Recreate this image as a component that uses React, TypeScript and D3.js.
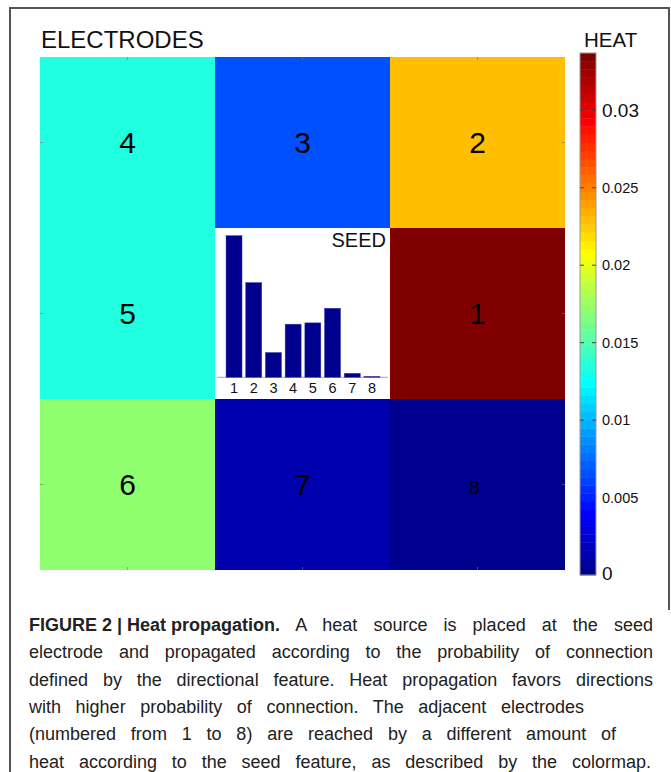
import * as d3 from "d3";
import React, { useEffect, useRef } from "react";

// electrodes 1..8 around the seed
const electrodes = ["1", "2", "3", "4", "5", "6", "7", "8"];
const heatValues = [0.0337, 0.0229, 0.0066, 0.0134, 0.0134, 0.0171, 0.0013, 0.0002];
const seedValues = [0.32, 0.214, 0.056, 0.12, 0.123, 0.156, 0.009, 0.002];
// rows of the 3x3 grid, "S" = seed cell
const gridRows = [["4", "3", "2"], ["5", "S", "1"], ["6", "7", "8"]];
const heatMax = 0.0337;
const heatTicks = [0, 0.005, 0.01, 0.015, 0.02, 0.025, 0.03];
const heatTickLabels = ["0", "0.005", "0.01", "0.015", "0.02", "0.025", "0.03"];
const captionBold = "FIGURE 2 | Heat  propagation.";
const captionLines = [
    " A heat source is placed at the seed",
    "electrode and propagated according to the probability of connection",
    "defined by the directional feature. Heat propagation favors directions",
    "with higher probability of connection. The adjacent electrodes",
    "(numbered from 1 to 8) are reached by a different amount of",
    "heat according to the seed feature, as described by the colormap.",
];
const captionEnds = [653, 653, 653, 584, 616, 651];

const jet = (i: number) => {
    const c = (v: number) => Math.round(255 * Math.max(0, Math.min(1, v)));
    const r = Math.min(0.0625 * (i - 23), 1 - 0.0625 * (i - 55));
    const g = Math.min(0.0625 * (i - 7), 1 - 0.0625 * (i - 39));
    const b = Math.min(0.5625 + 0.0625 * i, 1 - 0.0625 * (i - 23));
    return d3.rgb(c(r), c(g), c(b)).formatHex();
};
const heatIndex = (v: number) => Math.min(63, Math.floor((v / heatMax) * 64));

const FONT = "'Liberation Sans', Arial, Helvetica, sans-serif";
const CAPTION_FONT = "'Liberation Sans Narrow', 'Arial Narrow', 'Liberation Sans', sans-serif";

export default function App() {
    const capRef = useRef<SVGGElement>(null);

    const gx = d3.scaleBand().domain(["0", "1", "2"]).range([40, 565]);
    const gy = d3.scaleBand().domain(["0", "1", "2"]).range([57, 570]);
    const cy = d3.scaleLinear().domain([0, heatMax]).range([575, 53]);
    const sx = d3.scaleBand().domain(electrodes).range([222.5, 383.5]).paddingInner(0.19).paddingOuter(0.18);
    const sy = d3.scaleLinear().domain([0, 0.32]).range([377.3, 235.7]);
    const capX = 29;

    useEffect(() => {
        if (!capRef.current) return;
        d3.select(capRef.current).selectAll<SVGTextElement, unknown>("text").each(function (_, i) {
            // only the plain part of each line gets stretched
            const plain = d3.select(this).select<SVGTSpanElement>("tspan.plain");
            plain.attr("word-spacing", 0);
            const w = this.getComputedTextLength();
            const txt = plain.text();
            const spaces = (txt.match(/ /g) || []).length;
            const extra = (captionEnds[i] - capX - w) / Math.max(1, spaces);
            plain.attr("word-spacing", Math.max(0, extra));
        });
    }, []);

    const cells: { key: string; col: number; row: number }[] = [];
    gridRows.forEach((r, ri) => r.forEach((k, ci) => cells.push({ key: k, col: ci, row: ri })));

    return (
        <svg width={671} height={772} style={{ position: "absolute", left: 0, top: 0, background: "#fff" }} fontFamily={FONT}>
            {/* frame */}
            <path d="M10,772 V8 H669 V610" fill="none" stroke="#555" strokeWidth={2} />

            <text x={41} y={48} fontSize={24} fill="#111">ELECTRODES</text>
            <text x={584} y={47} fontSize={20.5} fill="#111">HEAT</text>

            {/* electrode grid */}
            {cells.map(c => {
                const x0 = gx(String(c.col))!; const y0 = gy(String(c.row))!;
                const w = gx.bandwidth(); const h = gy.bandwidth();
                const fill = c.key === "S" ? "#fff" : jet(heatIndex(heatValues[+c.key - 1]));
                return <rect key={c.key} x={x0} y={y0} width={w} height={h} fill={fill} />;
            })}
            {cells.filter(c => c.key !== "S").map(c => {
                const cx = gx(String(c.col))! + gx.bandwidth() / 2;
                const cyy = gy(String(c.row))! + gy.bandwidth() / 2;
                const small = c.key === "8";
                return (
                    <text key={"l" + c.key} x={small ? cx - 3 : cx} y={small ? cyy + 3 : cyy} textAnchor="middle"
                        dominantBaseline="central" fontSize={small ? 19 : 30} fill="#000">{c.key}</text>
                );
            })}
            {/* tiny axis ticks at cell centres */}
            {["0", "1", "2"].map(k => {
                const cx = gx(k)! + gx.bandwidth() / 2; const cyy = gy(k)! + gy.bandwidth() / 2;
                return (
                    <g key={"t" + k} stroke="#777" strokeWidth={1} opacity={0.6}>
                        <line x1={cx} x2={cx} y1={57} y2={60} />
                        <line x1={cx} x2={cx} y1={570} y2={567} />
                        <line x1={40} x2={43} y1={cyy} y2={cyy} />
                        <line x1={565} x2={562} y1={cyy} y2={cyy} />
                    </g>
                );
            })}

            {/* seed bar chart */}
            <line x1={217} x2={388} y1={sy(0)} y2={sy(0)} stroke="#aaa" strokeWidth={1} />
            {seedValues.map((v, i) => (
                <rect key={"b" + i} x={sx(electrodes[i])} y={sy(v)} width={sx.bandwidth()} height={sy(0) - sy(v)}
                    fill="#00008f" stroke="#3a3aa0" strokeWidth={0.5} />
            ))}
            {electrodes.map(e => (
                <text key={"s" + e} x={sx(e)! + sx.bandwidth() / 2} y={388} textAnchor="middle" dominantBaseline="central"
                    fontSize={14.5} fill="#111">{e}</text>
            ))}
            <text x={386} y={247} textAnchor="end" fontSize={20} fill="#111">SEED</text>

            {/* colorbar */}
            {d3.range(64).map(i => (
                <rect key={"c" + i} x={580} y={cy(((i + 1) * heatMax) / 64)} width={16}
                    height={cy((i * heatMax) / 64) - cy(((i + 1) * heatMax) / 64) + 0.4} fill={jet(i)} />
            ))}
            <rect x={580} y={cy(heatMax)} width={16} height={cy(0) - cy(heatMax)} fill="none" stroke="#999" strokeWidth={1} />
            {heatTicks.map((t, i) => {
                const big = i === 0 || i === heatTicks.length - 1;
                return (
                    <g key={"h" + i}>
                        {i > 0 && <line x1={580} x2={584} y1={cy(t)} y2={cy(t)} stroke="#444" strokeWidth={1} />}
                        {i > 0 && <line x1={592} x2={596} y1={cy(t)} y2={cy(t)} stroke="#444" strokeWidth={1} />}
                        <text x={602} y={i === 0 ? cy(t) - 2 : cy(t)} dominantBaseline="central" fontSize={big ? 19 : 14.5} fill="#111">
                            {heatTickLabels[i]}
                        </text>
                    </g>
                );
            })}

            {/* caption */}
            <g ref={capRef} fontFamily={CAPTION_FONT} fontSize={18} fill="#222">
                {captionLines.map((l, i) => (
                    <text key={"cap" + i} x={capX} y={631 + i * 27.3}>
                        {i === 0 && <tspan fontWeight="bold">{captionBold}</tspan>}
                        <tspan className="plain">{l}</tspan>
                    </text>
                ))}
            </g>
        </svg>
    );
}
